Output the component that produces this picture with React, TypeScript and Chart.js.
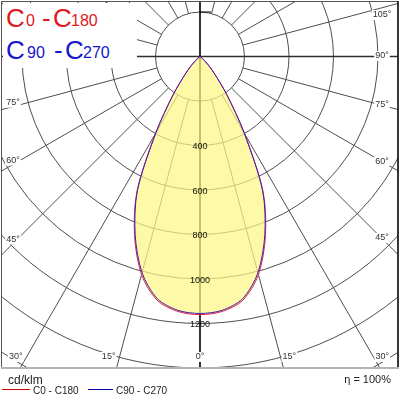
import React, { useEffect, useRef } from "react";
import { Chart, registerables } from "chart.js";

Chart.register(...registerables);

// Vertical angle gamma (degrees from nadir) and luminous intensity (cd/klm)
const GAMMA = [0, 5, 10, 15, 20, 25, 30, 35, 40, 45, 50, 55, 60];
const C0_C180 = [1160, 1150, 1112, 1015, 860, 672, 402, 215, 105, 50, 15, 2, 0];
const C90_C270 = [1155, 1145, 1105, 1006, 852, 666, 396, 211, 103, 48, 14, 2, 0];

const RINGS = [200, 400, 600, 800, 1000, 1200, 1400, 1600];
const RING_LABELS = [400, 600, 800, 1000, 1200];
const SPOKES = [15, 30, 45, 60, 75, 105, 120, 135, 150, 165];
const ANGLE_LABELS = [0, 15, 30, 45, 60, 75, 90, 105];
const SERIES_NAMES = ["C0 - C180", "C90 - C270"];
const UNIT = "cd/klm";
const EFFICIENCY = "η = 100%";

const FONT = '"Liberation Sans", Arial, sans-serif';

function outline(values: number[]) {
  const pts: { x: number; y: number }[] = [];
  for (let i = GAMMA.length - 1; i >= 0; i--) {
    const g = (GAMMA[i] * Math.PI) / 180;
    pts.push({ x: -values[i] * Math.sin(g), y: values[i] * Math.cos(g) });
  }
  for (let i = 1; i < GAMMA.length; i++) {
    const g = (GAMMA[i] * Math.PI) / 180;
    pts.push({ x: values[i] * Math.sin(g), y: values[i] * Math.cos(g) });
  }
  return pts;
}

const polarGrid = {
  id: "polarGrid",
  beforeDatasetsDraw(chart: any) {
    const { ctx, chartArea: a, scales } = chart;
    const xs = scales.x, ys = scales.y;
    const cx = xs.getPixelForValue(0), cy = ys.getPixelForValue(0);
    const rp = (v: number) => xs.getPixelForValue(v) - cx;
    ctx.save();
    ctx.beginPath();
    ctx.rect(a.left, a.top, a.right - a.left, a.bottom - a.top);
    ctx.clip();
    ctx.strokeStyle = "#4e4e4e";
    ctx.lineWidth = 1;
    for (const v of RINGS) {
      ctx.beginPath();
      ctx.arc(cx, cy, rp(v), 0, Math.PI * 2);
      ctx.stroke();
    }
    const r0 = rp(RINGS[0]), r1 = rp(2400);
    for (const g of SPOKES) {
      for (const s of [-1, 1]) {
        const t = (g * Math.PI) / 180;
        const dx = s * Math.sin(t), dy = Math.cos(t);
        ctx.beginPath();
        ctx.moveTo(cx + dx * r0, cy + dy * r0);
        ctx.lineTo(cx + dx * r1, cy + dy * r1);
        ctx.stroke();
      }
    }
    ctx.strokeStyle = "#303030";
    ctx.lineWidth = 1.4;
    ctx.beginPath();
    ctx.moveTo(a.left, cy);
    ctx.lineTo(a.right, cy);
    ctx.stroke();
    ctx.strokeStyle = "#000";
    ctx.lineWidth = 1.6;
    ctx.beginPath();
    ctx.moveTo(cx, a.top);
    ctx.lineTo(cx, a.bottom);
    ctx.stroke();
    ctx.lineWidth = 1;
    ctx.beginPath();
    ctx.moveTo(cx, cy - r0);
    ctx.lineTo(cx + 11, cy - r0);
    ctx.stroke();
    ctx.restore();
  },
  afterDatasetsDraw(chart: any) {
    const { ctx, scales } = chart;
    const xs = scales.x, ys = scales.y;
    const cx = xs.getPixelForValue(0), cy = ys.getPixelForValue(0);
    const rp = (v: number) => xs.getPixelForValue(v) - cx;
    ctx.save();
    ctx.font = `9px ${FONT}`;
    ctx.textBaseline = "middle";
    ctx.textAlign = "center";
    ctx.fillStyle = "#111";
    for (const v of RING_LABELS) {
      ctx.fillText(String(v), cx, cy + rp(v) + 1.5);
    }
    const leftX = 13, rightX = 382, bottomY = 357;
    const label = (text: string, x: number, y: number, align: string) => {
      ctx.textAlign = align;
      const w = ctx.measureText(text).width;
      const lx = align === "center" ? x - w / 2 : align === "left" ? x : x - w;
      ctx.fillStyle = "#fff";
      ctx.fillRect(lx - 1, y - 5, w + 2, 10);
      ctx.fillStyle = "#333";
      ctx.fillText(text, x, y);
    };
    for (const g of ANGLE_LABELS) {
      const text = `${g}°`;
      const t = (g * Math.PI) / 180;
      if (g === 0) {
        label(text, cx, bottomY, "center");
        continue;
      }
      for (const s of [-1, 1]) {
        const sin = Math.sin(t), cos = Math.cos(t);
        const tSide = (s > 0 ? rightX - cx : cx - leftX) / sin;
        const tBot = cos > 1e-6 ? (bottomY - cy) / cos : Infinity;
        if (tBot < tSide) {
          const x = cx + s * sin * tBot;
          if (s > 0) label(text, x + 2, bottomY, "left");
          else label(text, x - 4, bottomY, "right");
        } else {
          let y = cy + cos * tSide - (s > 0 ? 0.5 : 4);
          y = Math.max(y, 15);
          label(text, s > 0 ? rightX : leftX, y, "center");
        }
      }
    }
    ctx.restore();
  },
  afterDraw(chart: any) {
    const { ctx } = chart;
    ctx.save();
    ctx.strokeStyle = "#555";
    ctx.lineWidth = 1;
    ctx.strokeRect(1.5, 1.5, 396.5, 366);
    ctx.strokeStyle = "#111";
    ctx.lineWidth = 1.5;
    ctx.beginPath();
    ctx.moveTo(398, 1);
    ctx.lineTo(398, 368);
    ctx.stroke();
    ctx.strokeStyle = "#b4b4b4";
    ctx.lineWidth = 2;
    ctx.beginPath();
    ctx.moveTo(1, 368);
    ctx.lineTo(399, 368);
    ctx.stroke();
    ctx.restore();
  },
};

function Txt(props: { x?: number; right?: number; base: number; size: number; color: string; children: any }) {
  const { x, right, base, size, color, children } = props;
  const style: any = {
    position: "absolute",
    top: base - 0.8465 * size,
    fontSize: size,
    lineHeight: `${size}px`,
    color,
    whiteSpace: "pre",
    fontFamily: FONT,
  };
  if (right !== undefined) style.right = right;
  else style.left = x;
  return <span style={style}>{children}</span>;
}

export default function App() {
  const ref = useRef<HTMLCanvasElement>(null);
  useEffect(() => {
    const canvas = ref.current;
    if (!canvas) return;
    const chart = new Chart(canvas, {
      type: "line",
      data: {
        datasets: [
          {
            label: SERIES_NAMES[0],
            data: outline(C0_C180),
            borderColor: "rgb(232,30,70)",
            borderWidth: 1,
            backgroundColor: "rgba(252,246,132,0.72)",
            fill: "shape",
            pointRadius: 0,
            tension: 0.3,
            order: 2,
          },
          {
            label: SERIES_NAMES[1],
            data: outline(C90_C270),
            borderColor: "rgb(60,30,180)",
            borderWidth: 1,
            fill: false,
            pointRadius: 0,
            tension: 0.3,
            order: 1,
          },
        ],
      },
      options: {
        responsive: false,
        animation: false,
        layout: { padding: { left: 2, right: 2, top: 2, bottom: 32 } },
        scales: {
          x: { type: "linear", min: -890, max: 890, display: false },
          y: { type: "linear", min: -245, max: 1400, reverse: true, display: false },
        },
        plugins: { legend: { display: false }, tooltip: { enabled: false } },
        events: [],
      },
      plugins: [polarGrid],
    } as any);
    return () => chart.destroy();
  }, []);

  const red = "rgb(226,22,32)";
  const blue = "rgb(22,22,205)";
  return (
    <div style={{ position: "absolute", left: 0, top: 0, width: 400, height: 400, background: "#fff", fontFamily: FONT }}>
      <canvas ref={ref} width={400} height={400} style={{ display: "block", width: 400, height: 400 }} />
      <div style={{ position: "absolute", left: 3, top: 3, width: 134, height: 65, background: "#fff" }} />
      <Txt x={6} base={27} size={26} color={red}>C</Txt>
      <Txt x={26} base={27} size={16} color={red}>0</Txt>
      <Txt x={42} base={27} size={26} color={red}>-</Txt>
      <Txt x={53} base={27} size={26} color={red}>C</Txt>
      <Txt x={71} base={27} size={16} color={red}>180</Txt>
      <Txt x={6} base={59} size={26} color={blue}>C</Txt>
      <Txt x={27} base={59} size={16} color={blue}>90</Txt>
      <Txt x={54} base={59} size={26} color={blue}>-</Txt>
      <Txt x={65} base={59} size={26} color={blue}>C</Txt>
      <Txt x={83} base={59} size={16} color={blue}>270</Txt>
      <Txt x={8} base={384} size={12} color="#222">{UNIT}</Txt>
      <Txt right={9} base={383} size={11} color="#222">{EFFICIENCY}</Txt>
      <div style={{ position: "absolute", left: 2, top: 389, width: 28, height: 1, background: "rgb(220,0,0)" }} />
      <Txt x={33} base={394} size={10} color="#222">{SERIES_NAMES[0]}</Txt>
      <div style={{ position: "absolute", left: 88, top: 389, width: 25, height: 1, background: "rgb(0,0,160)" }} />
      <Txt x={116} base={394} size={10} color="#222">{SERIES_NAMES[1]}</Txt>
    </div>
  );
}
